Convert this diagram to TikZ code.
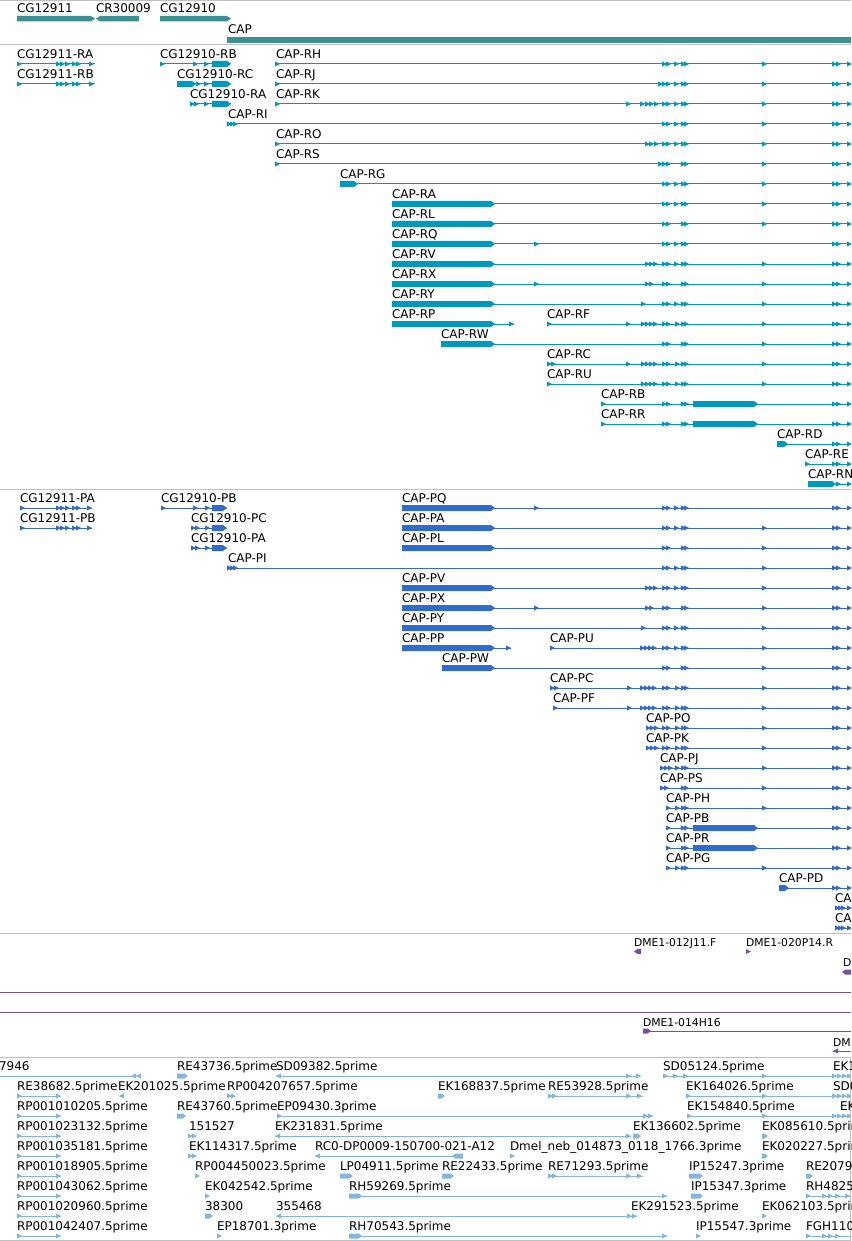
\documentclass[tikz,border=0pt]{standalone}
\usepackage{fontspec}
\setmainfont{DejaVu Sans}
\definecolor{genec}{RGB}{61,143,146}
\definecolor{trc}{RGB}{0,153,187}
\definecolor{prc}{RGB}{51,107,204}
\definecolor{puc}{RGB}{112,82,168}
\definecolor{esc}{RGB}{128,182,224}
\definecolor{sepc}{RGB}{192,192,192}
\newcounter{lb}
\newcommand\Lab[3]{\stepcounter{lb}\node[lab] (lab\arabic{lb}) at (#2,#1-5.5) {#3};}
\newcommand\Ln[3]{\draw[line width=1pt] (#2,#1) -- (#3,#1);}
\newcommand\Tri[2]{\foreach \q in {#2}{\fill (\q,#1-2.6) -- (\q+5,#1) -- (\q,#1+2.6) -- cycle;}}
\newcommand\LTri[2]{\foreach \q in {#2}{\fill (\q+5,#1-2.6) -- (\q,#1) -- (\q+5,#1+2.6) -- cycle;}}
\newcommand\Bar[3]{\fill (#2,#1-3) -- (#3-4,#1-3) -- (#3,#1) -- (#3-4,#1+3) -- (#2,#1+3) -- cycle;}
\newcommand\LBar[3]{\fill (#3,#1-3) -- (#2+4,#1-3) -- (#2,#1) -- (#2+4,#1+3) -- (#3,#1+3) -- cycle;}
\newcommand\SBar[3]{\fill (#2,#1-2.5) -- (#3-3.5,#1-2.5) -- (#3,#1) -- (#3-3.5,#1+2.5) -- (#2,#1+2.5) -- cycle;}
\newcommand\SLBar[3]{\fill (#3,#1-2.5) -- (#2+3.5,#1-2.5) -- (#2,#1) -- (#2+3.5,#1+2.5) -- (#3,#1+2.5) -- cycle;}
\begin{document}
\begin{tikzpicture}[x=1pt,y=-1pt,
  lab/.style={anchor=base west,inner sep=0pt,outer sep=0pt,font=\fontsize{12}{12}\selectfont,text=black},
  slab/.style={lab,font=\fontsize{10.8}{11}\selectfont},
  sep/.style={draw=sepc,line width=1pt}]
\useasboundingbox (0,0) rectangle (851,1241);
\fill[white] (0,0) rectangle (851,1241);
\clip (0,0) rectangle (851,1241);
% separators
\draw[sep] (0,1) -- (851,1);
\draw[sep] (0,45) -- (851,45);
\draw[sep] (0,489.5) -- (851,489.5);
\draw[sep] (0,933) -- (851,933);
\draw[sep] (0,1057) -- (851,1057);
\draw[sep] (0,1240) -- (851,1240);
\draw[sep] (850.5,1057) -- (850.5,1240);
% ---------------- genes
\begin{scope}[fill=genec]
\Lab{18}{17}{CG12911}\Lab{18}{96}{CR30009}\Lab{18}{160}{CG12910}
\fill (17,16) -- (91,16) -- (95,18.7) -- (91,21.4) -- (17,21.4) -- cycle;
\fill (139,16) -- (100,16) -- (96,18.7) -- (100,21.4) -- (139,21.4) -- cycle;
\fill (160,16) -- (227,16) -- (231,18.7) -- (227,21.4) -- (160,21.4) -- cycle;
\Lab{38.8}{228}{CAP}
\fill (227,37) rectangle (851,43);
\end{scope}
% ---------------- transcripts
\begin{scope}[draw=trc,fill=trc]
\Lab{64}{17}{CG12911-RA}\Ln{64}{17}{95}\Tri{64}{17,56,60,65,72,76,89}
\Lab{64}{160}{CG12910-RB}\Ln{64}{160}{231}\Tri{64}{160,193,204}\Bar{64}{212}{231}
\Lab{64}{276}{CAP-RH}\Ln{64}{275}{851}\Tri{64}{275,662,666,674,681,684,762,832,836,847}
\Lab{84}{17}{CG12911-RB}\Ln{84}{17}{95}\Tri{84}{17,56,60,65,72,76,89}
\Lab{84}{177}{CG12910-RC}\Ln{84}{177}{231}\Bar{84}{177}{196}\Tri{84}{196,204}\Bar{84}{212}{231}
\Lab{84}{276}{CAP-RJ}\Ln{84}{275}{851}\Tri{84}{275,658,662,666,674,681,684,762,832,836,847}
\Lab{104}{190}{CG12910-RA}\Ln{104}{190}{231}\Tri{104}{190,194,204}\Bar{104}{212}{231}
\Lab{104}{276}{CAP-RK}\Ln{104}{275}{851}\Tri{104}{275,626,640,645,649,654,662,666,674,681,684,762,832,836,847}
\Lab{124}{228}{CAP-RI}\Ln{124}{227}{851}\Tri{124}{227,230,233,662,666,674,681,684,762,832,836,847}
\Lab{144}{276}{CAP-RO}\Ln{144}{275}{851}\Tri{144}{275,645,649,654,662,666,674,681,684,762,832,836,847}
\Lab{164}{276}{CAP-RS}\Ln{164}{275}{851}\Tri{164}{275,658,662,666,681,684,762,832,836,847}
\Lab{184}{340}{CAP-RG}\Ln{184}{340}{851}\Bar{184}{340}{358}\Tri{184}{662,666,674,681,684,762,832,836,847}
\Lab{204}{392}{CAP-RA}\Ln{204}{392}{851}\Bar{204}{392}{495}\Tri{204}{662,666,674,681,684,762,832,836,847}
\Lab{224}{392}{CAP-RL}\Ln{224}{392}{851}\Bar{224}{392}{495}\Tri{224}{662,666,681,684,762,832,836,847}
\Lab{244}{392}{CAP-RQ}\Ln{244}{392}{851}\Bar{244}{392}{495}\Tri{244}{534,662,666,674,681,684,832,836,847}
\Lab{264}{392}{CAP-RV}\Ln{264}{392}{851}\Bar{264}{392}{495}\Tri{264}{645,649,653,662,666,674,681,684,762,832,836,847}
\Lab{284}{392}{CAP-RX}\Ln{284}{392}{851}\Bar{284}{392}{495}\Tri{284}{534,645,649,662,666,681,684,762,832,836,847}
\Lab{304}{392}{CAP-RY}\Ln{304}{392}{851}\Bar{304}{392}{495}\Tri{304}{641,662,666,674,681,684,762,832,836,847}
\Lab{324}{392}{CAP-RP}\Ln{324}{392}{514}\Bar{324}{392}{495}\Tri{324}{509}
\Lab{324}{547}{CAP-RF}\Ln{324}{547}{851}\Tri{324}{547,626,641,645,649,653,662,666,675,681,684,762,832,836,847}
\Lab{344}{441}{CAP-RW}\Ln{344}{441}{851}\Bar{344}{441}{495}\Tri{344}{662,666,681,684,762,832,836,847}
\Lab{364}{547}{CAP-RC}\Ln{364}{547}{851}\Tri{364}{547,551,626,641,645,649,653,662,666,675,681,684,762,832,836,847}
\Lab{384}{547}{CAP-RU}\Ln{384}{547}{851}\Tri{384}{547,641,645,649,653,662,666,675,681,684,762,832,836,847}
\Lab{404}{601}{CAP-RB}\Ln{404}{601}{851}\Tri{404}{601,662,666,681,684,832,836,847}\Bar{404}{693}{758}
\Lab{424}{601}{CAP-RR}\Ln{424}{601}{851}\Tri{424}{601,662,666,681,684,832,836,847}\Bar{424}{693}{758}
\Lab{444}{777}{CAP-RD}\Ln{444}{777}{851}\Bar{444}{777}{788}\Tri{444}{832,836,847}
\Lab{464}{805}{CAP-RE}\Ln{464}{805}{851}\Tri{464}{805,832,836,847}
\Lab{484}{808}{CAP-RN}\Ln{484}{808}{851}\Bar{484}{808}{836}\Tri{484}{836,847}
\end{scope}
% ---------------- proteins
\begin{scope}[draw=prc,fill=prc]
\Lab{508}{20}{CG12911-PA}\Ln{508}{20}{92}\Tri{508}{20,56,60,65,72,76,87}
\Lab{508}{161}{CG12910-PB}\Ln{508}{161}{227}\Tri{508}{161,193,205}\Bar{508}{212}{227}
\Lab{508}{402}{CAP-PQ}\Ln{508}{402}{851}\Bar{508}{402}{495}\Tri{508}{534,662,666,674,681,684,832,836,847}
\Lab{528}{20}{CG12911-PB}\Ln{528}{20}{92}\Tri{528}{20,56,60,65,72,76,87}
\Lab{528}{191}{CG12910-PC}\Ln{528}{191}{227}\Tri{528}{191,195,205}\Bar{528}{212}{227}
\Lab{528}{402}{CAP-PA}\Ln{528}{402}{851}\Bar{528}{402}{495}\Tri{528}{662,666,674,681,684,762,832,836,847}
\Lab{548}{191}{CG12910-PA}\Ln{548}{191}{227}\Tri{548}{191,195,205}\Bar{548}{212}{227}
\Lab{548}{402}{CAP-PL}\Ln{548}{402}{851}\Bar{548}{402}{495}\Tri{548}{662,666,681,684,762,832,836,847}
\Lab{568}{228}{CAP-PI}\Ln{568}{227}{851}\Tri{568}{227,230,233,662,666,674,681,684,762,832,836,847}
\Lab{588}{402}{CAP-PV}\Ln{588}{402}{851}\Bar{588}{402}{495}\Tri{588}{645,649,653,662,666,674,681,684,762,832,836,847}
\Lab{608}{402}{CAP-PX}\Ln{608}{402}{851}\Bar{608}{402}{495}\Tri{608}{534,645,649,662,666,681,684,762,832,836,847}
\Lab{628}{402}{CAP-PY}\Ln{628}{402}{851}\Bar{628}{402}{495}\Tri{628}{641,662,666,674,681,684,762,832,836,847}
\Lab{648}{402}{CAP-PP}\Ln{648}{402}{511}\Bar{648}{402}{495}\Tri{648}{506}
\Lab{648}{550}{CAP-PU}\Ln{648}{550}{851}\Tri{648}{550,640,644,648,652,662,666,674,681,684,762,832,836,847}
\Lab{668}{442}{CAP-PW}\Ln{668}{442}{851}\Bar{668}{442}{495}\Tri{668}{662,666,681,684,762,832,836,847}
\Lab{688}{550}{CAP-PC}\Ln{688}{550}{851}\Tri{688}{550,554,627,640,644,648,652,662,666,675,681,684,762,832,836,847}
\Lab{708}{553}{CAP-PF}\Ln{708}{553}{851}\Tri{708}{553,627,640,644,648,652,662,666,675,681,684,762,832,836,847}
\Lab{728}{646}{CAP-PO}\Ln{728}{646}{851}\Tri{728}{646,650,654,662,666,675,681,684,762,832,836,847}
\Lab{748}{646}{CAP-PK}\Ln{748}{646}{851}\Tri{748}{646,650,654,662,666,675,681,684,762,832,836,847}
\Lab{768}{660}{CAP-PJ}\Ln{768}{660}{851}\Tri{768}{660,664,668,675,681,684,762,832,836,847}
\Lab{788}{660}{CAP-PS}\Ln{788}{660}{851}\Tri{788}{660,664,681,684,762,832,836,847}
\Lab{808}{666}{CAP-PH}\Ln{808}{666}{851}\Tri{808}{666,675,681,684,762,832,836,847}
\Lab{828}{666}{CAP-PB}\Ln{828}{666}{851}\Tri{828}{666,681,684,832,836,847}\Bar{828}{693}{758}
\Lab{848}{666}{CAP-PR}\Ln{848}{666}{851}\Tri{848}{666,681,684,832,836,847}\Bar{848}{693}{758}
\Lab{868}{666}{CAP-PG}\Ln{868}{666}{851}\Tri{868}{666,675,681,684,762,832,836,847}
\Lab{888}{779}{CAP-PD}\Ln{888}{779}{851}\Bar{888}{779}{789}\Tri{888}{832,836,847}
\Lab{908}{835}{CA}\Ln{908}{835}{851}\Tri{908}{835,838,841,847}
\Lab{928}{835}{CA}\Ln{928}{835}{851}\Tri{928}{835,838,841,847}
\end{scope}
% ---------------- purple track
\begin{scope}[draw=puc,fill=puc]
\node[slab] (d1) at (634,946) {DME1-012J11.F}; \SLBar{951.5}{634}{641}
\node[slab] (d2) at (746,946) {DME1-020P14.R}; \fill (746,949) -- (751,951.5) -- (746,954) -- cycle;
\node[slab] (d3) at (843,966.5) {D}; \SLBar{972}{842}{851}
\draw[line width=1pt] (0,992) -- (851,992);
\draw[line width=1pt] (0,1012) -- (851,1012);
\node[slab] (d4) at (643,1026) {DME1-014H16}; \Ln{1031}{643}{851}\SBar{1031}{643}{651}
\node[slab] (d5) at (833,1046) {DM}; \Ln{1051}{833}{851}\LTri{1051}{833}
\end{scope}
% ---------------- EST track
\begin{scope}[draw=esc,fill=esc]
\Lab{1076}{-1}{7946}\Ln{1076}{0}{141}\LTri{1076}{131,136}
\Lab{1076}{177}{RE43736.5prime}\SBar{1076}{177}{188}
\Lab{1076}{276}{SD09382.5prime}\Ln{1076}{276}{641}\LTri{1076}{276}\Tri{1076}{626,636}
\Lab{1076}{663}{SD05124.5prime}\Ln{1076}{663}{851}\Tri{1076}{663,673,683,762,832,837,842,847}
\Lab{1076}{833}{EK1}
\Lab{1096}{17}{RE38682.5prime}\Ln{1096}{17}{61}\Tri{1096}{17,56}
\Lab{1096}{118}{EK201025.5prime}\LTri{1096}{119}
\Lab{1096}{227}{RP004207657.5prime}\Tri{1096}{227,231}
\Lab{1096}{438}{EK168837.5prime}\SBar{1096}{438}{445}
\Lab{1096}{548}{RE53928.5prime}\Ln{1096}{548}{643}\Tri{1096}{548,552,626,637}
\Lab{1096}{686}{EK164026.5prime}\Ln{1096}{686}{851}\Tri{1096}{686,762,832,837,842,847}
\Lab{1096}{833}{SD0}
\Lab{1116}{17}{RP001010205.5prime}\Ln{1116}{17}{61}\Tri{1116}{17,56}
\Lab{1116}{177}{RE43760.5prime}\SBar{1116}{177}{186}
\Lab{1116}{277}{EP09430.3prime}\Ln{1116}{277}{653}\Tri{1116}{277,643,648}
\Lab{1116}{687}{EK154840.5prime}\Ln{1116}{687}{851}\Tri{1116}{687,762,832,837,842,847}
\Lab{1116}{840}{EK}
\Lab{1136}{17}{RP001023132.5prime}\Ln{1136}{17}{61}\Tri{1136}{17,56}
\Lab{1136}{189}{151527}\Tri{1136}{188,192}
\Lab{1136}{275}{EK231831.5prime}\Ln{1136}{275}{631}\LTri{1136}{275}\Tri{1136}{626}
\Lab{1136}{633}{EK136602.5prime}\SBar{1136}{633}{641}
\Lab{1136}{762}{EK085610.5prime}\SBar{1136}{762}{768}
\Lab{1156}{17}{RP001035181.5prime}\Ln{1156}{17}{61}\Tri{1156}{17,56}
\Lab{1156}{189}{EK114317.5prime}\Tri{1156}{188,192}
\Lab{1156}{315}{RC0-DP0009-150700-021-A12}\Ln{1156}{315}{463}\LTri{1156}{315}\SLBar{1156}{452}{463}
\Lab{1156}{510}{Dmel\_neb\_014873\_0118\_1766.3prime}\Tri{1156}{510}
\Lab{1156}{762}{EK020227.5prime}\SBar{1156}{762}{768}
\Lab{1176}{17}{RP001018905.5prime}\Ln{1176}{17}{61}\Tri{1176}{17,56}
\Lab{1176}{195}{RP004450023.5prime}\Tri{1176}{195}
\Lab{1176}{340}{LP04911.5prime}\SBar{1176}{340}{353}
\Lab{1176}{442}{RE22433.5prime}\SBar{1176}{442}{454}
\Lab{1176}{548}{RE71293.5prime}\Ln{1176}{548}{643}\Tri{1176}{548,552,626,637}
\Lab{1176}{689}{IP15247.3prime}\SBar{1176}{689}{703}
\Lab{1176}{806}{RE2079}\SBar{1176}{806}{813}
\Lab{1196}{17}{RP001043062.5prime}\Ln{1196}{17}{61}\Tri{1196}{17,56}
\Lab{1196}{205}{EK042542.5prime}\Tri{1196}{205}
\Lab{1196}{349}{RH59269.5prime}\Ln{1196}{349}{667}\SBar{1196}{349}{362}\Tri{1196}{662}
\Lab{1196}{691}{IP15347.3prime}\SBar{1196}{691}{703}
\Lab{1196}{806}{RH4825}\Ln{1196}{806}{851}\Tri{1196}{806,822,828,835,845}
\Lab{1216}{17}{RP001020960.5prime}\Ln{1216}{17}{61}\Tri{1216}{17,56}
\Lab{1216}{205}{38300}\SBar{1216}{205}{213}
\Lab{1216}{276}{355468}\Ln{1216}{276}{637}\LTri{1216}{276}\Tri{1216}{627,632}
\Lab{1216}{631}{EK291523.5prime}
\Lab{1216}{762}{EK062103.5prime}\Tri{1216}{762}
\Lab{1236}{17}{RP001042407.5prime}\Ln{1236}{17}{61}\Tri{1236}{17,56}
\Lab{1236}{217}{EP18701.3prime}\Tri{1236}{217}
\Lab{1236}{349}{RH70543.5prime}\Ln{1236}{349}{667}\SBar{1236}{349}{362}\Tri{1236}{662}
\Lab{1236}{696}{IP15547.3prime}\Tri{1236}{696}
\Lab{1236}{806}{FGH110}\Ln{1236}{806}{851}\Tri{1236}{806,822,828,835}
\end{scope}
\end{tikzpicture}
\end{document}
